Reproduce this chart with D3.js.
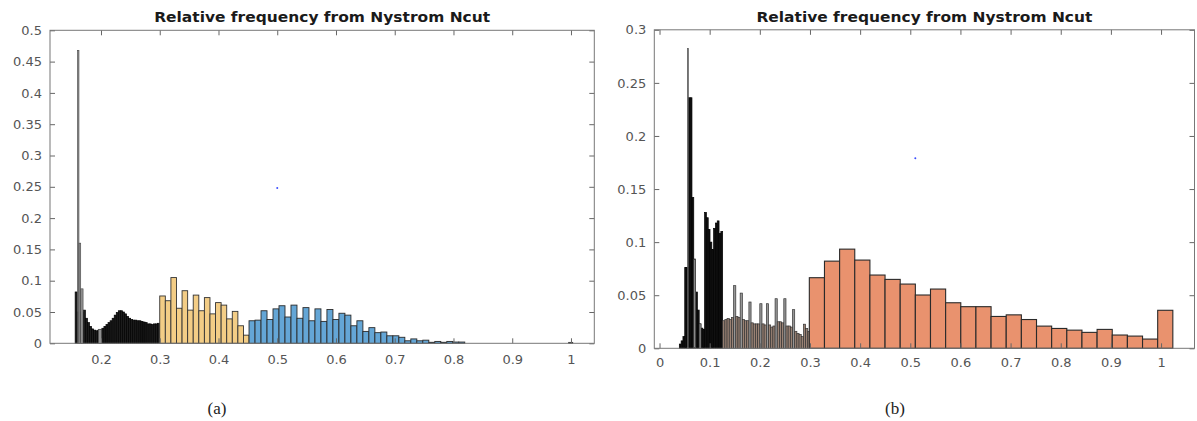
<!DOCTYPE html>
<html><head><meta charset="utf-8">
<script src="https://cdn.jsdelivr.net/npm/d3@7"></script>
<style>html,body{margin:0;padding:0;background:#fff;} svg{display:block}</style>
</head><body>
<svg id="c" width="1197" height="421"></svg>
<script>
// ---------------- DATA ----------------
const titleText = "Relative frequency from Nystrom Ncut";
const panelLabels = ["(a)", "(b)"];

// Panel (a)
const aXTicks = [0.2, 0.3, 0.4, 0.5, 0.6, 0.7, 0.8, 0.9, 1];
const aYTicks = [0, 0.05, 0.1, 0.15, 0.2, 0.25, 0.3, 0.35, 0.4, 0.45, 0.5];
const aDarkStart = 0.156, aDarkWidth = 0.0035;
const aDarkValues = [0.082, 0.05, 0.05, 0.05, 0.053, 0.040, 0.033, 0.027, 0.023, 0.021,
  0.020, 0.021, 0.022, 0.024, 0.027, 0.030, 0.033, 0.036, 0.040, 0.045,
  0.049, 0.052, 0.052, 0.050, 0.047, 0.043, 0.040, 0.038, 0.037, 0.037,
  0.036, 0.036, 0.035, 0.034, 0.033, 0.031, 0.031, 0.030, 0.031, 0.031, 0.032];
const aGrayLo = [0.1600, 0.1625, 0.1655, 0.1955];
const aGrayHi = [0.1625, 0.1655, 0.1695, 0.2010];
const aGrayValues = [0.468, 0.160, 0.087, 0.0224];
const aYellowStart = 0.300, aYellowWidth = 0.0095;
const aYellowValues = [0.0756, 0.068, 0.105, 0.056, 0.084, 0.053, 0.077, 0.052,
  0.073, 0.047, 0.065, 0.061, 0.039, 0.051, 0.028, 0.013];
const aBlueStart = 0.452, aBlueWidth = 0.0102;
const aBlueValues = [0.036, 0.037, 0.052, 0.038, 0.055, 0.060, 0.042, 0.061, 0.040, 0.057,
  0.036, 0.055, 0.035, 0.054, 0.038, 0.048, 0.045, 0.028, 0.036, 0.019,
  0.025, 0.017, 0.018, 0.012, 0.012, 0.0096, 0.004, 0.007, 0.004, 0.005,
  0.0016, 0.003, 0.0016, 0.003, 0.002, 0.002];
const aTailLo = [0.996], aTailHi = [1.003], aTailValues = [0.0015];
const aStrayX = [0.5], aStrayY = [0.248];

// Panel (b)
const bXTicks = [0, 0.1, 0.2, 0.3, 0.4, 0.5, 0.6, 0.7, 0.8, 0.9, 1];
const bYTicks = [0, 0.05, 0.1, 0.15, 0.2, 0.25, 0.3];
const bDarkStart = 0.0395, bDarkWidth = 0.0036;
const bDarkValues = [0.004, 0.007, 0.011, 0.076, 0.076, 0.236, 0.236, 0.142, 0.084, 0.053,
  0.036, 0.023, 0.019, 0.018, 0.128, 0.123, 0.112, 0.100, 0.093, 0.113,
  0.118, 0.120, 0.108, 0.110];
const bGrayLo = [0.0555, 0.0683, 0.0791];
const bGrayHi = [0.0575, 0.0719, 0.0827];
const bGrayValues = [0.2825, 0.084, 0.023];
const bBrownStart = 0.126, bBrownWidth = 0.00435;
const bBrownValues = [0.026, 0.027, 0.028, 0.027, 0.029, 0.059, 0.030, 0.029, 0.052, 0.027,
  0.026, 0.026, 0.0436, 0.024, 0.023, 0.023, 0.023, 0.042, 0.023, 0.022,
  0.042, 0.022, 0.020, 0.021, 0.0467, 0.025, 0.025, 0.024, 0.0467, 0.021,
  0.021, 0.020, 0.0364, 0.016, 0.014, 0.013, 0.011, 0.0227, 0.0187, 0.016];
const bOrangeStart = 0.2987, bOrangeWidth = 0.0302;
const bOrangeValues = [0.0665, 0.0821, 0.0934, 0.0831, 0.069, 0.0649, 0.0605, 0.0502,
  0.0558, 0.0429, 0.0392, 0.0392, 0.0300, 0.0315, 0.0271, 0.0209, 0.0187, 0.0171,
  0.0150, 0.0178, 0.0125, 0.0115, 0.0087, 0.0358];
const bStrayX = [0.51], bStrayY = [0.179];

// ---------------- DRAWING ----------------
const svg = d3.select("#c");

function uniformBins(start, width, values) {
  return values.map((v, i) => ({ x0: start + i * width, x1: start + (i + 1) * width, v }));
}
function edgeBins(lo, hi, values) {
  return values.map((v, i) => ({ x0: lo[i], x1: hi[i], v }));
}
function spikeFlags(values) {
  return values.map((v, i) => {
    const l = i > 0 ? values[i - 1] : 0, r = i < values.length - 1 ? values[i + 1] : 0;
    return v > 1.35 * l && v > 1.35 * r;
  });
}

function drawPanel(cfg) {
  const g = svg.append("g");
  const x = d3.scaleLinear().domain(cfg.xDomain).range([cfg.left, cfg.right]);
  const y = d3.scaleLinear().domain(cfg.yDomain).range([cfg.bottom, cfg.top]);

  const clip = "clip" + cfg.id;
  svg.append("clipPath").attr("id", clip).append("rect")
    .attr("x", cfg.left).attr("y", cfg.top)
    .attr("width", cfg.right - cfg.left).attr("height", cfg.bottom - cfg.top + 1);

  const bars = g.append("g").attr("clip-path", `url(#${clip})`);
  cfg.groups.forEach(grp => {
    bars.append("g").selectAll("rect").data(grp.bins).join("rect")
      .attr("x", d => x(d.x0))
      .attr("width", d => Math.max(0.6, x(d.x1) - x(d.x0)))
      .attr("y", d => y(d.v))
      .attr("height", d => y(0) - y(d.v))
      .attr("fill", (d, i) => grp.fillFn ? grp.fillFn(d, i) : grp.fill)
      .attr("stroke", grp.stroke)
      .attr("stroke-width", grp.sw);
  });

  bars.selectAll("circle.s").data(cfg.stray).join("circle")
    .attr("cx", d => x(d[0])).attr("cy", d => y(d[1])).attr("r", 1)
    .attr("fill", "#3a4cff");

  const fmt = d3.format("~g");
  const styleAxis = sel => {
    sel.attr("font-family", "DejaVu Sans, sans-serif").attr("font-size", 13)
      .attr("color", "#555");
    sel.select(".domain").remove();
    sel.selectAll(".tick line").attr("stroke", "#666");
  };
  g.append("g").attr("transform", `translate(0,${cfg.bottom})`)
    .call(d3.axisBottom(x).tickValues(cfg.xTicks).tickFormat(fmt).tickSize(-5).tickPadding(cfg.xPad))
    .call(styleAxis);
  g.append("g").attr("transform", `translate(0,${cfg.top})`)
    .call(d3.axisTop(x).tickValues(cfg.xTicks).tickFormat("").tickSize(-5))
    .call(styleAxis);
  g.append("g").attr("transform", `translate(${cfg.left},0)`)
    .call(d3.axisLeft(y).tickValues(cfg.yTicks).tickFormat(fmt).tickSize(-5).tickPadding(8))
    .call(styleAxis);
  g.append("g").attr("transform", `translate(${cfg.right},0)`)
    .call(d3.axisRight(y).tickValues(cfg.yTicks).tickFormat("").tickSize(-5))
    .call(styleAxis);

  g.append("rect").attr("x", cfg.left).attr("y", cfg.top)
    .attr("width", cfg.right - cfg.left).attr("height", cfg.bottom - cfg.top)
    .attr("fill", "none").attr("stroke", "#777").attr("stroke-width", 1);

  g.append("text").attr("x", (cfg.left + cfg.right) / 2).attr("y", 22)
    .attr("text-anchor", "middle").attr("font-family", "DejaVu Sans, sans-serif")
    .attr("font-weight", "bold").attr("font-size", 14).attr("fill", "#1a1a1a")
    .attr("textLength", 336).attr("lengthAdjust", "spacingAndGlyphs")
    .text(titleText);

  g.append("text").attr("x", cfg.capX).attr("y", 414)
    .attr("text-anchor", "middle").attr("font-family", "Liberation Serif, serif")
    .attr("font-size", 17).attr("fill", "#222").text(cfg.caption);
}

const bBrownSpikes = spikeFlags(bBrownValues);

drawPanel({
  id: "a", left: 50, right: 594.3, top: 30.3, bottom: 343.3,
  xDomain: [0.1132, 1.0397], yDomain: [0, 0.5],
  xTicks: aXTicks, yTicks: aYTicks, xPad: 11, capX: 217, caption: panelLabels[0],
  stray: aStrayX.map((v, i) => [v, aStrayY[i]]),
  groups: [
    { bins: uniformBins(aDarkStart, aDarkWidth, aDarkValues), fill: "#1c1c1c", stroke: "#000", sw: 0.7 },
    { bins: edgeBins(aGrayLo, aGrayHi, aGrayValues), fill: "#909090", stroke: "#444", sw: 0.6 },
    { bins: uniformBins(aYellowStart, aYellowWidth, aYellowValues), fill: "#F3CD86", stroke: "#333", sw: 0.9 },
    { bins: uniformBins(aBlueStart, aBlueWidth, aBlueValues), fill: "#64A6D6", stroke: "#2a2a2a", sw: 0.9 },
    { bins: edgeBins(aTailLo, aTailHi, aTailValues), fill: "#444", stroke: "#333", sw: 0.8 }
  ]
});

drawPanel({
  id: "b", left: 654.3, right: 1194.5, top: 29.8, bottom: 348.3,
  xDomain: [-0.0104, 1.0667], yDomain: [0, 0.3],
  xTicks: bXTicks, yTicks: bYTicks, xPad: 9.5, capX: 895, caption: panelLabels[1],
  stray: bStrayX.map((v, i) => [v, bStrayY[i]]),
  groups: [
    { bins: uniformBins(bDarkStart, bDarkWidth, bDarkValues), fill: "#111", stroke: "#000", sw: 0.7 },
    { bins: edgeBins(bGrayLo, bGrayHi, bGrayValues), fill: "#8e8e8e", stroke: "#444", sw: 0.6 },
    { bins: uniformBins(bBrownStart, bBrownWidth, bBrownValues),
      fillFn: (d, i) => bBrownSpikes[i] ? "#969696" : "#9a8274", stroke: "#333", sw: 0.7 },
    { bins: uniformBins(bOrangeStart, bOrangeWidth, bOrangeValues), fill: "#E9926E", stroke: "#2a2a2a", sw: 1.1 }
  ]
});
</script>
</body></html>
